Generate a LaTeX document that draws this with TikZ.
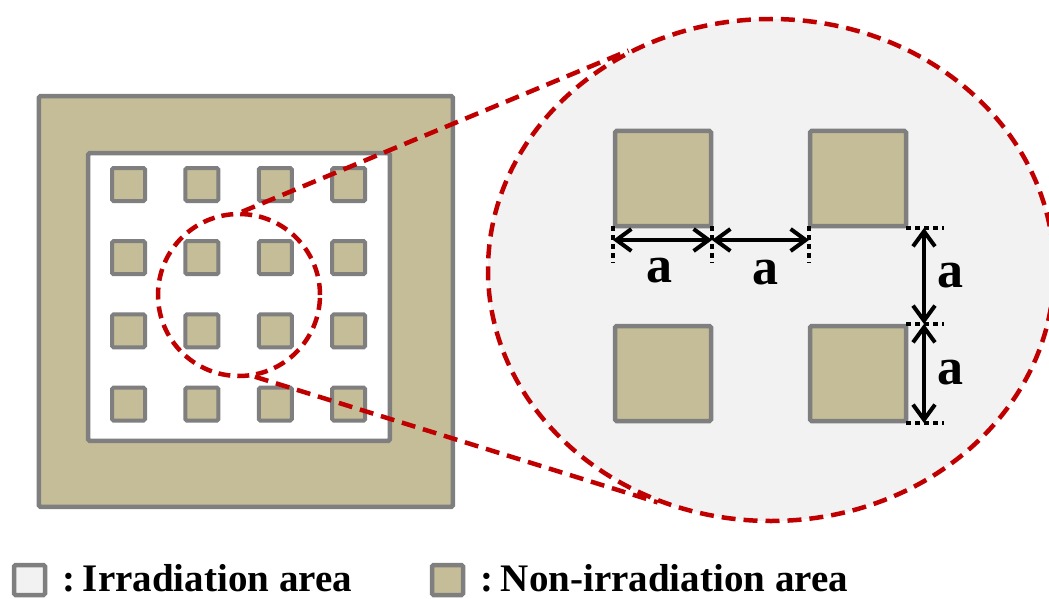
\documentclass[tikz,border=0pt]{standalone}
\usepackage{fontspec}
\setmainfont{Liberation Serif}
\usetikzlibrary{shapes.geometric,arrows.meta}
\definecolor{padtan}{HTML}{C4BD97}
\definecolor{edgegray}{HTML}{7F7F7F}
\definecolor{zoomred}{HTML}{C00000}
\definecolor{lightbg}{HTML}{F2F2F2}
\begin{document}
\begin{tikzpicture}[x=1pt,y=-1pt,
  pad/.style={draw=edgegray,fill=padtan,line width=4pt,rounded corners=1.5pt},
  bigpad/.style={draw=edgegray,fill=padtan,line width=4.5pt,rounded corners=1.5pt},
  zoomline/.style={draw=zoomred,line width=4.5pt,dash pattern=on 14pt off 8pt},
  tickline/.style={draw=black,line width=4pt,dash pattern=on 5pt off 4pt},
  dimarrow/.style={draw=black,line width=4pt,{Straight Barb[length=15pt,width=22pt]}-{Straight Barb[length=15pt,width=22pt]}},
  dimlabel/.style={font=\bfseries\fontsize{52}{52}\selectfont,inner sep=0pt},
  legendtext/.style={font=\bfseries\fontsize{39}{39}\selectfont,inner sep=0pt,anchor=base west},
]
\useasboundingbox (0,0) rectangle (1049,599);

% left sample
\draw[draw=edgegray,fill=padtan,line width=4.5pt,rounded corners=1.5pt] (38.9,96.2) rectangle (452.8,506.8);
\draw[draw=edgegray,fill=white,line width=4.5pt,rounded corners=1.5pt] (88.2,153.2) rectangle (389.8,440.8);
\foreach \i in {0,...,3}
  \foreach \j in {0,...,3}
    \draw[pad] ({112+73.4*\i},{168+73.2*\j}) rectangle ++(33,33);

% magnified view
\node[ellipse,draw=zoomred,fill=lightbg,line width=4.5pt,dash pattern=on 14pt off 8pt,
      minimum width=566pt,minimum height=502pt,inner sep=0pt] (bigview) at (771,270) {};
\node[circle,draw=zoomred,line width=4.5pt,dash pattern=on 12pt off 7pt,
      minimum size=162pt,inner sep=0pt] (smallview) at (239,295) {};
\draw[zoomline] (smallview.88) -- (bigview.123.8);
\draw[zoomline] (smallview.281.5) -- (bigview.244.5);

\draw[bigpad] (615,131) rectangle (711,226);
\draw[bigpad] (810,131) rectangle (906,226);
\draw[bigpad] (615,326) rectangle (711,421);
\draw[bigpad] (810,326) rectangle (906,421);

% dimension ticks
\coordinate (h1) at (613,240);
\coordinate (h2) at (712,240);
\coordinate (h3) at (809,240);
\coordinate (v1) at (924,228);
\coordinate (v2) at (924,324);
\coordinate (v3) at (924,423);
\draw[tickline] (613,226) -- (613,263);
\draw[tickline] (712,226) -- (712,263);
\draw[tickline] (809,226) -- (809,263);
\draw[tickline] (906,228) -- (944,228);
\draw[tickline] (906,324) -- (944,324);
\draw[tickline] (906,423) -- (944,423);
\draw[dimarrow] (h1) -- (h2);
\draw[dimarrow] (h2) -- (h3);
\draw[dimarrow] (v1) -- (v2);
\draw[dimarrow] (v2) -- (v3);
\node[dimlabel] (la1) at (659,271) {a};
\node[dimlabel] (la2) at (765,273) {a};
\node[dimlabel] (la3) at (950,276) {a};
\node[dimlabel] (la4) at (950,373) {a};

% legend
\draw[draw=edgegray,fill=lightbg,line width=4.5pt,rounded corners=1.5pt] (14,565) rectangle (45,595);
\node[legendtext] (leg1) at (62,591) {:\hspace{0.2em}Irradiation area};
\draw[draw=edgegray,fill=padtan,line width=4.5pt,rounded corners=1.5pt] (432,565) rectangle (463,595);
\node[legendtext] (leg2) at (480,591) {:\hspace{0.2em}Non-irradiation area};
\end{tikzpicture}
\end{document}
